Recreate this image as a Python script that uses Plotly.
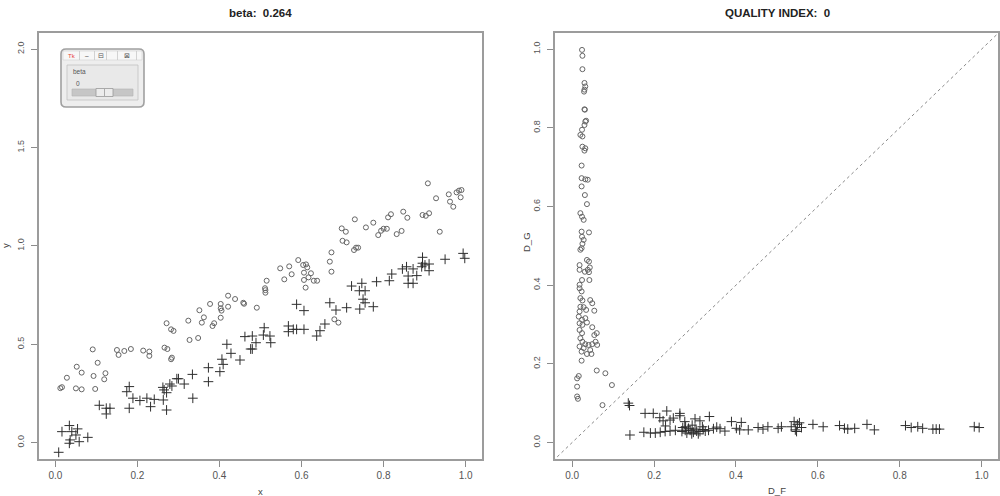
import plotly.graph_objects as go

# ---------------- data ----------------
left_circle_x = [0.012, 0.016, 0.028, 0.052, 0.064, 0.050, 0.064, 0.091, 0.103, 0.093, 0.097, 0.122, 0.119,
                 0.150, 0.154, 0.168, 0.184, 0.214, 0.229, 0.229, 0.266, 0.273, 0.284, 0.282, 0.271, 0.282,
                 0.288, 0.327, 0.324, 0.348, 0.351, 0.357, 0.362, 0.377, 0.383, 0.387, 0.403, 0.403, 0.403,
                 0.405, 0.421, 0.421, 0.438, 0.458, 0.460, 0.491, 0.512, 0.512, 0.515, 0.511, 0.548, 0.558,
                 0.570, 0.576, 0.592, 0.604, 0.611, 0.614, 0.606, 0.606, 0.617, 0.623, 0.630, 0.638, 0.610,
                 0.669, 0.673, 0.673, 0.680, 0.690, 0.698, 0.708, 0.700, 0.710, 0.730, 0.728, 0.733, 0.738,
                 0.757, 0.775, 0.787, 0.794, 0.800, 0.808, 0.811, 0.818, 0.832, 0.844, 0.848, 0.858, 0.895,
                 0.903, 0.911, 0.908, 0.928, 0.937, 0.959, 0.962, 0.970, 0.978, 0.984, 0.990, 0.988]
left_circle_y = [0.277, 0.282, 0.330, 0.386, 0.356, 0.276, 0.271, 0.474, 0.406, 0.339, 0.273, 0.353, 0.322,
                 0.471, 0.446, 0.466, 0.476, 0.468, 0.463, 0.441, 0.483, 0.476, 0.432, 0.424, 0.607, 0.576,
                 0.568, 0.522, 0.620, 0.532, 0.673, 0.610, 0.637, 0.705, 0.593, 0.607, 0.635, 0.705, 0.683,
                 0.671, 0.691, 0.747, 0.730, 0.711, 0.706, 0.686, 0.775, 0.762, 0.823, 0.785, 0.886, 0.830,
                 0.896, 0.856, 0.928, 0.903, 0.906, 0.891, 0.864, 0.827, 0.840, 0.861, 0.823, 0.823, 0.788,
                 0.920, 0.869, 0.967, 0.627, 0.610, 1.089, 1.072, 1.026, 1.018, 1.135, 0.979, 0.991, 0.991,
                 1.094, 1.118, 1.055, 1.077, 1.087, 1.087, 1.145, 1.161, 1.060, 1.076, 1.174, 1.143, 1.157,
                 1.153, 1.166, 1.318, 1.242, 1.072, 1.262, 1.225, 1.199, 1.272, 1.281, 1.284, 1.247]

left_cross_x = [0.008, 0.016, 0.034, 0.036, 0.034, 0.040, 0.050, 0.054, 0.058, 0.079, 0.107, 0.124, 0.133,
                0.124, 0.174, 0.180, 0.180, 0.189, 0.206, 0.223, 0.232, 0.241, 0.263, 0.271, 0.262, 0.265,
                0.271, 0.279, 0.284, 0.296, 0.300, 0.314, 0.334, 0.335, 0.373, 0.373, 0.401, 0.406, 0.409,
                0.418, 0.428, 0.450, 0.462, 0.480, 0.476, 0.480, 0.489, 0.509, 0.507, 0.523, 0.525, 0.568,
                0.568, 0.580, 0.588, 0.606, 0.588, 0.606, 0.637, 0.645, 0.657, 0.669, 0.684, 0.710, 0.742,
                0.775, 0.722, 0.747, 0.741, 0.755, 0.750, 0.755, 0.783, 0.814, 0.820, 0.846, 0.856, 0.872,
                0.881, 0.860, 0.860, 0.872, 0.895, 0.895, 0.893, 0.901, 0.911, 0.911, 0.950, 0.994, 0.998]
left_cross_y = [-0.049, 0.056, 0.087, 0.014, -0.003, 0.056, 0.039, 0.070, 0.005, 0.027, 0.190, 0.175, 0.175,
                0.146, 0.259, 0.285, 0.175, 0.226, 0.214, 0.226, 0.183, 0.220, 0.217, 0.166, 0.281, 0.268,
                0.254, 0.298, 0.288, 0.325, 0.325, 0.298, 0.347, 0.226, 0.381, 0.310, 0.361, 0.424, 0.398,
                0.500, 0.454, 0.420, 0.539, 0.542, 0.476, 0.476, 0.508, 0.584, 0.547, 0.542, 0.508, 0.593,
                0.564, 0.576, 0.576, 0.576, 0.703, 0.671, 0.542, 0.569, 0.603, 0.711, 0.674, 0.686, 0.679,
                0.691, 0.796, 0.810, 0.772, 0.772, 0.729, 0.711, 0.818, 0.823, 0.857, 0.883, 0.894, 0.883,
                0.849, 0.847, 0.810, 0.810, 0.942, 0.912, 0.894, 0.903, 0.908, 0.874, 0.932, 0.962, 0.937]

right_circle_x = [0.024, 0.025, 0.025, 0.030, 0.032, 0.030, 0.029, 0.030, 0.031, 0.032, 0.034, 0.030, 0.024,
                  0.025, 0.020, 0.025, 0.030, 0.032, 0.023, 0.023, 0.032, 0.038, 0.023, 0.031, 0.036, 0.020,
                  0.024, 0.028, 0.023, 0.024, 0.028, 0.041, 0.025, 0.023, 0.020, 0.036, 0.041, 0.018, 0.043,
                  0.038, 0.018, 0.031, 0.041, 0.024, 0.042, 0.018, 0.018, 0.023, 0.020, 0.025, 0.044, 0.049,
                  0.054, 0.020, 0.028, 0.018, 0.034, 0.016, 0.024, 0.032, 0.018, 0.025, 0.036, 0.049, 0.060,
                  0.054, 0.018, 0.024, 0.020, 0.025, 0.032, 0.018, 0.040, 0.049, 0.057, 0.061, 0.028, 0.044,
                  0.023, 0.036, 0.047, 0.023, 0.060, 0.081, 0.016, 0.012, 0.097, 0.012, 0.012, 0.014, 0.074]
right_circle_y = [0.998, 0.983, 0.949, 0.914, 0.905, 0.897, 0.892, 0.847, 0.846, 0.816, 0.818, 0.807, 0.795,
                  0.778, 0.782, 0.752, 0.742, 0.748, 0.704, 0.672, 0.669, 0.668, 0.651, 0.629, 0.606, 0.583,
                  0.574, 0.566, 0.536, 0.523, 0.515, 0.534, 0.505, 0.494, 0.490, 0.464, 0.460, 0.451, 0.445,
                  0.439, 0.439, 0.434, 0.433, 0.413, 0.413, 0.401, 0.392, 0.384, 0.367, 0.361, 0.362, 0.354,
                  0.335, 0.345, 0.344, 0.333, 0.337, 0.320, 0.312, 0.316, 0.303, 0.299, 0.305, 0.293, 0.278,
                  0.273, 0.286, 0.278, 0.265, 0.256, 0.250, 0.244, 0.248, 0.250, 0.256, 0.248, 0.240, 0.235,
                  0.231, 0.225, 0.225, 0.208, 0.183, 0.176, 0.169, 0.163, 0.146, 0.142, 0.117, 0.111, 0.095]

right_cross_x = [0.137, 0.140, 0.141, 0.178, 0.198, 0.231, 0.263, 0.214, 0.222, 0.239, 0.247, 0.263, 0.275,
                 0.300, 0.312, 0.335, 0.228, 0.277, 0.293, 0.318, 0.175, 0.191, 0.203, 0.215, 0.227, 0.239,
                 0.252, 0.268, 0.276, 0.280, 0.288, 0.296, 0.304, 0.312, 0.325, 0.333, 0.345, 0.353, 0.361,
                 0.373, 0.284, 0.300, 0.320, 0.270, 0.292, 0.308, 0.389, 0.413, 0.401, 0.409, 0.430, 0.454,
                 0.466, 0.478, 0.503, 0.511, 0.535, 0.542, 0.545, 0.550, 0.555, 0.560, 0.548, 0.588, 0.613,
                 0.653, 0.665, 0.673, 0.690, 0.720, 0.738, 0.814, 0.828, 0.844, 0.856, 0.881, 0.889, 0.897,
                 0.982, 0.994]
right_cross_y = [0.100, 0.094, 0.019, 0.074, 0.074, 0.080, 0.074, 0.063, 0.055, 0.057, 0.062, 0.068, 0.053,
                 0.060, 0.055, 0.066, 0.042, 0.040, 0.044, 0.040, 0.026, 0.024, 0.024, 0.026, 0.028, 0.029,
                 0.031, 0.028, 0.031, 0.024, 0.031, 0.026, 0.029, 0.028, 0.029, 0.031, 0.035, 0.039, 0.035,
                 0.029, 0.036, 0.034, 0.033, 0.038, 0.022, 0.022, 0.053, 0.051, 0.036, 0.032, 0.032, 0.038,
                 0.034, 0.040, 0.036, 0.040, 0.040, 0.053, 0.032, 0.046, 0.050, 0.038, 0.028, 0.046, 0.040,
                 0.043, 0.036, 0.034, 0.036, 0.046, 0.032, 0.043, 0.038, 0.040, 0.036, 0.034, 0.034, 0.034,
                 0.040, 0.038]

diag_line = [-0.1, 1.1]

x_ticks = [0.0, 0.2, 0.4, 0.6, 0.8, 1.0]
left_y_ticks = [0.0, 0.5, 1.0, 1.5, 2.0]
right_y_ticks = [0.0, 0.2, 0.4, 0.6, 0.8, 1.0]

left_title = "beta: \u00a00.264"
right_title = "QUALITY INDEX: \u00a00"

# ---------------- figure ----------------
W, H = 1000, 496


def px(x):
    return x / W


def py(y):
    return 1 - y / H


circ = dict(symbol="circle-open", size=5, color="#666666", line=dict(width=1, color="#666666"))
cross = dict(symbol="cross-thin-open", size=7, color="#2e2e2e", line=dict(width=1, color="#2e2e2e"))

fig = go.Figure()
fig.add_trace(go.Scatter(x=left_circle_x, y=left_circle_y, mode="markers", marker=circ,
                         xaxis="x", yaxis="y", showlegend=False))
fig.add_trace(go.Scatter(x=left_cross_x, y=left_cross_y, mode="markers", marker=cross,
                         xaxis="x", yaxis="y", showlegend=False))
fig.add_trace(go.Scatter(x=diag_line, y=diag_line, mode="lines",
                         line=dict(color="#8a8a8a", width=1, dash="3px,3px"),
                         xaxis="x2", yaxis="y2", showlegend=False))
fig.add_trace(go.Scatter(x=right_circle_x, y=right_circle_y, mode="markers", marker=circ,
                         xaxis="x2", yaxis="y2", showlegend=False))
fig.add_trace(go.Scatter(x=right_cross_x, y=right_cross_y, mode="markers", marker=cross,
                         xaxis="x2", yaxis="y2", showlegend=False))

axis_common = dict(showgrid=False, zeroline=False, showline=True, mirror=True,
                   linecolor="#9c9c9c", linewidth=1.6, ticks="outside", ticklen=6,
                   tickcolor="#8c8c8c", tickwidth=1, tickformat=".1f")
xfont = dict(family="Liberation Sans, Arial, sans-serif", size=10, color="#555555")
yfont = dict(family="Liberation Sans, Arial, sans-serif", size=9, color="#555555")

fig.update_layout(
    width=W, height=H,
    margin=dict(l=0, r=0, t=0, b=0),
    paper_bgcolor="white", plot_bgcolor="white",
    xaxis=dict(domain=[px(39), px(482)], range=[-0.04, 1.04], tickvals=x_ticks,
               tickfont=xfont, anchor="y", **axis_common),
    yaxis=dict(domain=[py(459), py(33)], range=[-0.083, 2.082], tickvals=left_y_ticks,
               tickfont=yfont, tickangle=-90, anchor="x", ticklabelstandoff=4, **axis_common),
    xaxis2=dict(domain=[px(555), px(998)], range=[-0.042, 1.04], tickvals=x_ticks,
                tickfont=xfont, anchor="y2", **axis_common),
    yaxis2=dict(domain=[py(459), py(33)], range=[-0.042, 1.041], tickvals=right_y_ticks,
                tickfont=yfont, tickangle=-90, anchor="x2", ticklabelstandoff=4, **axis_common),
)

title_font = dict(family="Liberation Sans, Arial, sans-serif", size=11.5, color="#222222")
label_font = dict(family="Liberation Sans, Arial, sans-serif", size=9.5, color="#444444")
ann = [
    dict(text="<b>%s</b>" % left_title, x=px(260), y=py(13), font=title_font),
    dict(text="<b>%s</b>" % right_title, x=px(777), y=py(13), font=title_font),
    dict(text="x", x=px(260), y=py(484), yanchor="top", font=label_font),
    dict(text="D_F", x=px(777), y=py(483), yanchor="top", font=label_font),
    dict(text="y", x=px(5), y=py(246), textangle=-90, font=label_font),
    dict(text="D_G", x=px(526), y=py(242), textangle=-90, font=label_font),
]
for a in ann:
    a.setdefault("xanchor", "center")
    a.setdefault("yanchor", "middle")
    fig.add_annotation(xref="paper", yref="paper", showarrow=False, **a)


# ---------------- slider widget overlay ----------------
def rrect(x0, y0, x1, y1, r):
    X0, X1 = px(x0), px(x1)
    Y0, Y1 = py(y0), py(y1)
    rx, ry = r / W, r / H
    return (f"M {X0 + rx},{Y0} L {X1 - rx},{Y0} Q {X1},{Y0} {X1},{Y0 - ry} "
            f"L {X1},{Y1 + ry} Q {X1},{Y1} {X1 - rx},{Y1} L {X0 + rx},{Y1} "
            f"Q {X0},{Y1} {X0},{Y1 + ry} L {X0},{Y0 - ry} Q {X0},{Y0} {X0 + rx},{Y0} Z")


def rect(x0, y0, x1, y1, fill, line="#b0b0b0", lw=0.8):
    fig.add_shape(type="rect", xref="paper", yref="paper",
                  x0=px(x0), x1=px(x1), y0=py(y1), y1=py(y0),
                  fillcolor=fill, line=dict(color=line, width=lw))


fig.add_shape(type="path", xref="paper", yref="paper", path=rrect(61, 49, 144, 107, 5),
              fillcolor="#eeeeee", line=dict(color="#a0a0a0", width=1.6))
rect(63, 51, 142, 60, "#f7f7f7", line="#d0d0d0", lw=0.6)
for xd in [79.5, 94.5, 106.5, 117.5, 136.5]:
    fig.add_shape(type="line", xref="paper", yref="paper", x0=px(xd), x1=px(xd),
                  y0=py(51), y1=py(60), line=dict(color="#c8c8c8", width=0.8))
rect(67, 65, 138, 100, "#e9e9e9", line="#c0c0c0", lw=0.8)
rect(72, 89, 133, 96, "#c6c6c6", line="#b4b4b4", lw=0.6)
rect(96, 88.5, 113, 96.5, "#ececec", line="#9a9a9a", lw=0.8)
fig.add_shape(type="line", xref="paper", yref="paper", x0=px(104.5), x1=px(104.5),
              y0=py(89), y1=py(96), line=dict(color="#9a9a9a", width=0.8))

wfont = dict(family="Liberation Sans, Arial, sans-serif", size=6.5, color="#555555")
for t, xx, yy, f in [("Tk", 72, 56, dict(family="Liberation Sans, Arial", size=6, color="#e8453c")),
                     ("\u2013", 86.5, 55.5, wfont), ("\u229f", 101, 55.5, wfont), ("\u22a0", 127, 55.5, wfont),
                     ("beta", 79, 72, wfont), ("0", 78, 83, wfont)]:
    fig.add_annotation(xref="paper", yref="paper", showarrow=False, text=t, x=px(xx), y=py(yy),
                       xanchor="center", yanchor="middle", font=f)

fig.write_html("out.html")
